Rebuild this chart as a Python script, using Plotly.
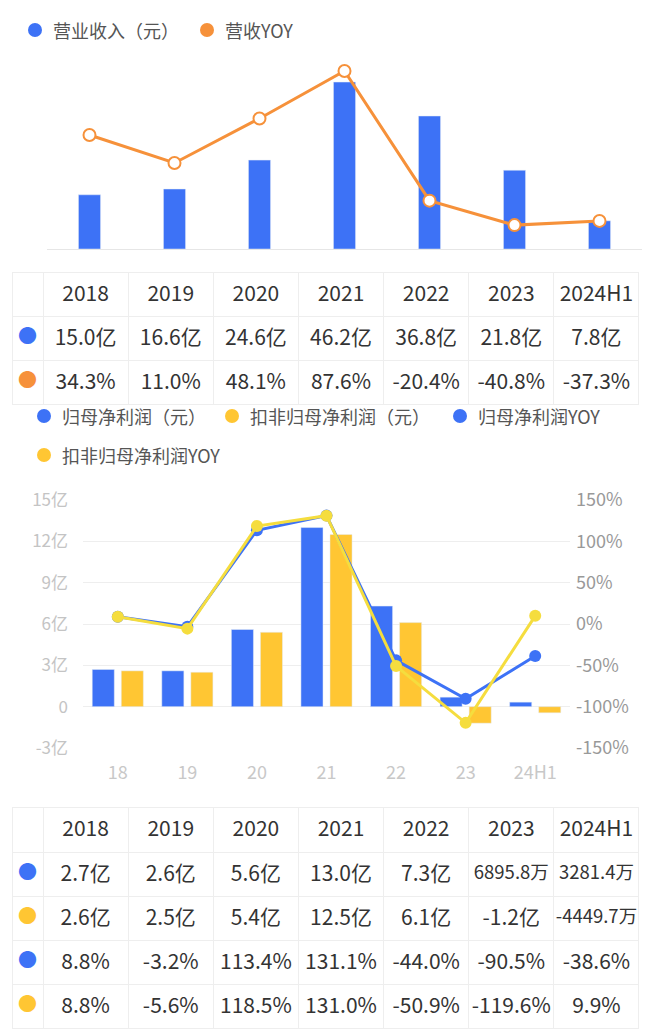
import plotly.graph_objects as go

W, H = 660, 1033

years = ["2018", "2019", "2020", "2021", "2022", "2023", "2024H1"]
short_years = ["18", "19", "20", "21", "22", "23", "24H1"]

# 营业收入 (亿元) and YOY (%)
revenue = [15.0, 16.6, 24.6, 46.2, 36.8, 21.8, 7.8]
revenue_yoy = [34.3, 11.0, 48.1, 87.6, -20.4, -40.8, -37.3]

# 归母净利润 / 扣非归母净利润 (亿元) and YOY (%)
net_profit = [2.7, 2.6, 5.6, 13.0, 7.3, 0.68958, 0.32814]
deducted_profit = [2.6, 2.5, 5.4, 12.5, 6.1, -1.2, -0.44497]
net_profit_yoy = [8.8, -3.2, 113.4, 131.1, -44.0, -90.5, -38.6]
deducted_yoy = [8.8, -5.6, 118.5, 131.0, -50.9, -119.6, 9.9]

left_ticks = [-3, 0, 3, 6, 9, 12, 15]
right_ticks = [-150, -100, -50, 0, 50, 100, 150]

BLUE = "#3D72F6"
ORANGE = "#F6913A"
YELLOW_BAR = "#FFC633"
YELLOW_LINE = "#F5DD3E"
TEXT = "#333333"
FONT = "Noto Sans CJK SC"


def fx(px):
    return px / W


def fy(py):
    return min(1.0, max(0.0, 1 - py / H))


def money(v):
    if abs(v) >= 1:
        return f"{v:.1f}亿"
    return f"{v * 1e4:.1f}万"


def pct(v):
    return f"{v:.1f}%"


def text_size(s):
    # the app shrinks long 万 values so they fit in the cell
    return 18.5 if s.endswith("万") else 21


fig = go.Figure()

# ---- top chart ----
fig.add_trace(go.Bar(
    x=years, y=revenue, width=0.26, marker_color=BLUE,
    xaxis="x", yaxis="y", showlegend=False,
))
fig.add_trace(go.Scatter(
    x=years, y=revenue_yoy, mode="lines+markers",
    line=dict(color=ORANGE, width=3),
    marker=dict(size=12, color="white", line=dict(color=ORANGE, width=2)),
    xaxis="x", yaxis="y2", showlegend=False,
))

# ---- bottom chart ----
fig.add_trace(go.Bar(
    x=years, y=net_profit, marker_color=BLUE,
    xaxis="x2", yaxis="y3", showlegend=False, offsetgroup="a",
))
fig.add_trace(go.Bar(
    x=years, y=deducted_profit, marker_color=YELLOW_BAR,
    xaxis="x2", yaxis="y3", showlegend=False, offsetgroup="b",
))
fig.add_trace(go.Scatter(
    x=years, y=net_profit_yoy, mode="lines+markers",
    line=dict(color=BLUE, width=3), marker=dict(size=12, color=BLUE),
    xaxis="x2", yaxis="y4", showlegend=False,
))
fig.add_trace(go.Scatter(
    x=years, y=deducted_yoy, mode="lines+markers",
    line=dict(color=YELLOW_LINE, width=3), marker=dict(size=12, color=YELLOW_LINE),
    xaxis="x2", yaxis="y4", showlegend=False,
))

# ---- tables ----
# one empty table draws the grid, then one borderless table per row holds
# the text (so each row can have its own dot colour and font sizes)
col_widths = [31] + [85] * len(years)
TABLE_X = [fx(12), fx(639)]
TEXT_SHIFT = 5  # plotly top-aligns cell text; push it to the row middle


def add_table(top, header_h, row_h, rows, dot_colors):
    n_rows = len(rows)
    total = header_h + row_h * n_rows
    fig.add_trace(go.Table(
        domain=dict(x=TABLE_X, y=[fy(top + total + 2), fy(top)]),
        columnwidth=col_widths,
        header=dict(values=[""] * len(col_widths), height=header_h,
                    line=dict(color="#eeeeee", width=1), fill_color="white"),
        cells=dict(values=[[""] * n_rows] * len(col_widths), height=row_h,
                   line=dict(color="#eeeeee", width=1), fill_color="white"),
    ))
    all_rows = [([""] + years, None, header_h)] + [
        (["●"] + r, c, row_h) for r, c in zip(rows, dot_colors)
    ]
    y = top
    for values, dot_color, h in all_rows:
        fig.add_trace(go.Table(
            domain=dict(x=TABLE_X, y=[fy(y + TEXT_SHIFT + h + 2), fy(y + TEXT_SHIFT)]),
            columnwidth=col_widths,
            header=dict(
                values=values, height=h, align="center",
                line=dict(width=0), fill_color="rgba(0,0,0,0)",
                font=dict(
                    family=FONT,
                    size=[19] + [text_size(v) for v in values[1:]],
                    color=[dot_color or TEXT] + [TEXT] * len(years),
                ),
            ),
        ))
        y += h


add_table(
    272, 44, 44,
    [[money(v) for v in revenue], [pct(v) for v in revenue_yoy]],
    [BLUE, ORANGE],
)
add_table(
    807, 45, 44,
    [[money(v) for v in net_profit], [money(v) for v in deducted_profit],
     [pct(v) for v in net_profit_yoy], [pct(v) for v in deducted_yoy]],
    [BLUE, YELLOW_BAR, BLUE, YELLOW_BAR],
)

# ---- legends (drawn by hand) ----
legend_items = [
    (35, 30, BLUE, "营业收入（元）"),
    (207, 30, ORANGE, "营收YOY"),
    (44, 416, BLUE, "归母净利润（元）"),
    (232, 416, YELLOW_BAR, "扣非归母净利润（元）"),
    (460, 416, BLUE, "归母净利润YOY"),
    (44, 455, YELLOW_BAR, "扣非归母净利润YOY"),
]
shapes = []
annotations = []
for cx, cy, color, label in legend_items:
    shapes.append(dict(
        type="circle", xref="paper", yref="paper",
        xsizemode="pixel", ysizemode="pixel",
        xanchor=fx(cx), yanchor=fy(cy), x0=-7, x1=7, y0=-7, y1=7,
        fillcolor=color, line=dict(width=0),
    ))
    annotations.append(dict(
        xref="paper", yref="paper", x=fx(cx + 16), y=fy(cy),
        xanchor="left", yanchor="middle", showarrow=False, text=label,
        font=dict(family=FONT, size=18, color="#555555"),
    ))

fig.update_layout(
    width=W, height=H,
    margin=dict(l=0, r=0, t=0, b=0, autoexpand=False),
    paper_bgcolor="white", plot_bgcolor="white",
    font=dict(family=FONT, color=TEXT),
    barmode="group", bargap=0.165, bargroupgap=0.24,
    shapes=shapes, annotations=annotations,
    xaxis=dict(
        domain=[fx(47), fx(642)], anchor="y", showticklabels=False,
        showgrid=False, showline=True, linecolor="#e6e6e6", linewidth=1,
        ticks="",
    ),
    yaxis=dict(domain=[fy(249), fy(60)], range=[0, 52.3], visible=False),
    yaxis2=dict(overlaying="y", range=[-60.7, 96.8], visible=False),
    xaxis2=dict(
        domain=[fx(83), fx(570)], anchor="y3", tickvals=years, ticktext=short_years,
        showgrid=False, showline=False, ticks="", ticklabelstandoff=12,
        tickfont=dict(family=FONT, size=18, color="#c8c8c8"),
    ),
    yaxis3=dict(
        domain=[fy(748), fy(500)], anchor="x2", range=[-3, 15],
        tickvals=left_ticks,
        ticktext=[f"{v}亿" if v else "0" for v in left_ticks],
        showgrid=True, gridcolor="#eeeeee", gridwidth=1, zeroline=False,
        ticks="", ticklabelstandoff=14,
        tickfont=dict(family=FONT, size=17, color="#c4c4c4"),
    ),
    yaxis4=dict(
        overlaying="y3", side="right", anchor="x2", range=[-150, 150],
        tickvals=right_ticks, ticktext=[f"{v}%" for v in right_ticks],
        showgrid=False, zeroline=False, ticks="", ticklabelstandoff=5,
        tickfont=dict(family=FONT, size=18, color="#999999"),
    ),
)

fig.write_html(
    "out.html",
    config={"displayModeBar": False},
    post_script="document.body.style.margin='0px';",
)
